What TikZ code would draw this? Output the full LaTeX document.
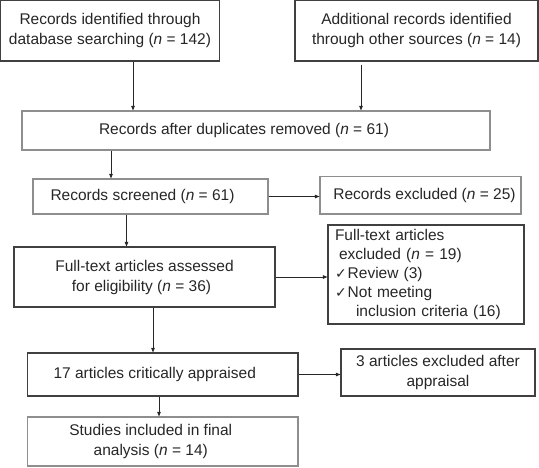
\documentclass[tikz,border=0pt]{standalone}
\usepackage{fontspec}
\setmainfont{Liberation Sans}
\newfontfamily\dejavu{DejaVu Sans}
\usetikzlibrary{arrows.meta}
\definecolor{dk}{HTML}{404040}
\definecolor{lt}{HTML}{8E8E8E}
\definecolor{tx}{HTML}{262626}
\begin{document}
\begin{tikzpicture}[x=1pt,y=-1pt,
 box/.style={draw=dk,line width=1.1pt,rectangle,inner sep=0pt,align=center,text=tx,font=\fontsize{15.5}{20}\selectfont},
 lbox/.style={box,draw=lt},
 arr/.style={draw=black!85,line width=0.8pt,-{Triangle[length=4.5pt,width=3.5pt]}}
]
\useasboundingbox (0,0) rectangle (539,467);
\node[box,minimum width=219pt,minimum height=60.5pt] (b1) at (110,30.75) {Records identified through\\database searching (\textit{n} = 142)};
\node[box,minimum width=243pt,minimum height=60.5pt] (b2) at (416.5,30.75) {Additional records identified\\through other sources (\textit{n} = 14)};
\node[lbox,minimum width=468pt,minimum height=39pt] (b3) at (256,130.5) {Records after duplicates removed (\textit{n} = 61)\hspace*{24pt}};
\node[lbox,minimum width=235pt,minimum height=35pt] (b4) at (150.5,196.5) {Records screened (\textit{n} = 61)\hspace*{16pt}};
\node[lbox,minimum width=201pt,minimum height=37.5pt] (b5) at (420.5,195.25) {\hspace*{8pt}Records excluded (\textit{n} = 25)};
\node[box,minimum width=261pt,minimum height=60pt] (b6) at (144.5,277) {Full-text articles assessed\\for eligibility (\textit{n} = 36)\hspace*{6pt}};
\node[box,minimum width=196pt,minimum height=99pt,align=left,text width=182pt,inner xsep=7pt,font=\fontsize{15.5}{18.9}\selectfont] (b7) at (426,274.5) {Full-text articles\\\hspace*{4pt}excluded (\textit{n} = 19)\\{\dejavu\fontsize{14}{18.9}\selectfont ✓}\hspace{1pt}Review (3)\\{\dejavu\fontsize{14}{18.9}\selectfont ✓}\hspace{1pt}Not meeting\\\hspace*{21pt}inclusion criteria (16)};
\node[box,minimum width=270.5pt,minimum height=43pt] (b8) at (162.75,374.5) {17 articles critically appraised\hspace*{16pt}};
\node[box,minimum width=194pt,minimum height=47pt] (b9) at (438,372.5) {3 articles excluded after\\appraisal};
\node[lbox,minimum width=270.5pt,minimum height=49pt] (b10) at (162.75,441.5) {Studies included in final\hspace*{24pt}\\analysis (\textit{n} = 14)\hspace*{24pt}};
\coordinate (c1) at (133,0);
\coordinate (c2) at (361,0);
\coordinate (c3) at (111,0);
\coordinate (c4) at (126.5,0);
\coordinate (c5) at (153,0);
\coordinate (c6) at (159,0);
\draw[arr] (b1.south -| c1) -- (b3.north -| c1);
\draw[arr,shorten <=3pt] (b2.south -| c2) -- (b3.north -| c2);
\draw[arr] (b3.south -| c3) -- (b4.north -| c3);
\draw[arr] (b4.east) -- (b4.east -| b5.west);
\draw[arr] (b4.south -| c4) -- (b6.north -| c4);
\draw[arr] (b6.east) -- (b6.east -| b7.west);
\draw[arr] (b6.south -| c5) -- (b8.north -| c5);
\draw[arr] (b8.east) -- (b8.east -| b9.west);
\draw[arr] (b8.south -| c6) -- (b10.north -| c6);
\end{tikzpicture}
\end{document}
